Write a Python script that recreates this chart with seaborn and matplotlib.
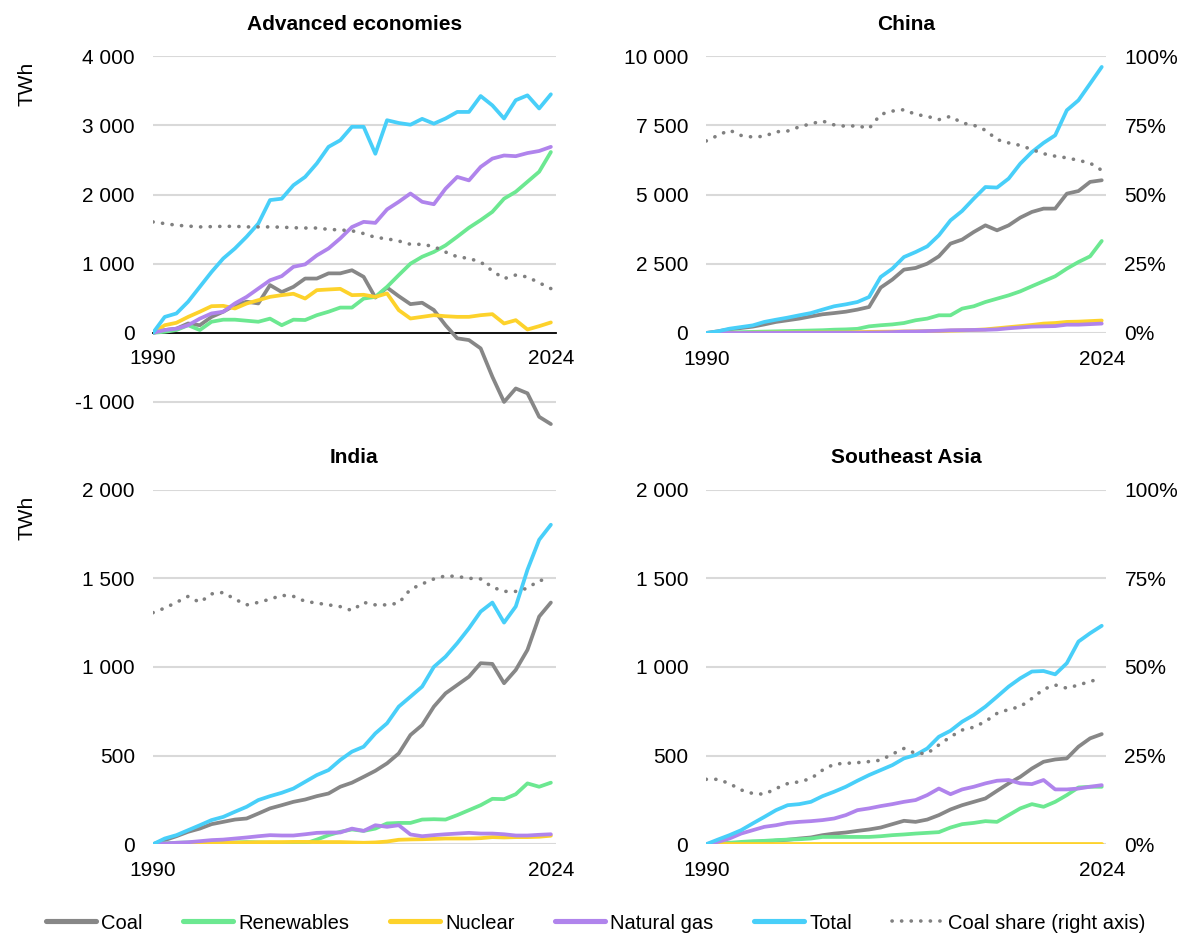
import matplotlib
matplotlib.use("Agg")
import matplotlib.pyplot as plt
from matplotlib.lines import Line2D
from matplotlib.ticker import FuncFormatter, FixedLocator
import pandas as pd
import seaborn as sns

years = list(range(1990, 2025))

# Change in electricity generation since 1990 (TWh) and coal share (%)
adv_coal = [0, 40, 60, 135, 110, 230, 305, 400, 450, 425,
            690, 590, 665, 785, 785, 860, 860, 905, 810, 510,
            655, 530, 415, 435, 330, 110, -80, -105, -225, -635,
            -1000, -805, -875, -1215, -1320]
adv_renew = [0, 15, 40, 110, 40, 160, 190, 190, 175, 160,
             205, 110, 190, 185, 255, 305, 365, 365, 495, 520,
             665, 835, 1000, 1100, 1170, 1265, 1390, 1520, 1630, 1750,
             1940, 2040, 2185, 2330, 2615]
adv_nuclear = [0, 110, 145, 230, 305, 385, 390, 352, 424, 472,
               520, 545, 565, 496, 617, 627, 636, 545, 550, 520,
               570, 328, 207, 231, 255, 240, 231, 231, 255, 270,
               135, 183, 48, 96, 150]
adv_gas = [0, 40, 60, 110, 205, 280, 305, 425, 520, 640,
           760, 820, 955, 990, 1120, 1220, 1365, 1530, 1605, 1590,
           1785, 1895, 2015, 1895, 1860, 2085, 2255, 2205, 2400, 2520,
           2565, 2555, 2600, 2630, 2690]
adv_total = [0, 230, 280, 450, 665, 880, 1075, 1220, 1390, 1580,
             1920, 1940, 2135, 2255, 2450, 2690, 2785, 2980, 2980, 2590,
             3075, 3035, 3010, 3095, 3025, 3100, 3195, 3195, 3425, 3290,
             3100, 3365, 3435, 3245, 3450]
adv_share = [40.1, 39.5, 38.9, 38.6, 38.3, 38.4, 38.5, 38.5, 38.3, 38.3,
             38.3, 38.2, 38.0, 37.9, 37.9, 37.4, 37.2, 36.9, 35.9, 34.5,
             34.0, 33.2, 32.0, 32.0, 31.2, 29.2, 27.5, 26.9, 25.6, 22.4,
             19.6, 20.9, 20.2, 18.1, 16.0]

chn_coal = [0, 60, 130, 180, 230, 310, 400, 460, 520, 600,
            675, 720, 770, 845, 940, 1640, 1930, 2290, 2350, 2505,
            2770, 3230, 3375, 3650, 3890, 3710, 3890, 4170, 4375, 4495,
            4495, 5035, 5130, 5460, 5520]
chn_renew = [0, 10, 20, 30, 40, 50, 60, 70, 80, 90,
             100, 120, 130, 150, 240, 280, 310, 360, 460, 520,
             640, 640, 880, 965, 1120, 1240, 1360, 1505, 1690, 1870,
             2050, 2325, 2565, 2770, 3325]
chn_nuclear = [0, 0, 0, 0, 10, 12, 14, 15, 16, 18,
               18, 19, 20, 30, 40, 45, 50, 55, 60, 65,
               70, 85, 95, 110, 130, 170, 210, 250, 290, 340,
               360, 400, 410, 430, 450]
chn_gas = [0, 0, 0, 0, 0, 2, 3, 4, 5, 6,
           7, 8, 9, 10, 15, 20, 30, 50, 55, 70,
           80, 100, 105, 110, 115, 130, 170, 200, 230, 240,
           250, 300, 300, 320, 340]
chn_total = [0, 60, 155, 215, 275, 400, 480, 555, 640, 720,
             845, 965, 1035, 1120, 1300, 2025, 2325, 2745, 2925, 3130,
             3530, 4070, 4410, 4855, 5275, 5255, 5580, 6120, 6540, 6870,
             7145, 8050, 8410, 9010, 9615]
chn_share = [69.4, 71.4, 73.3, 71.4, 70.8, 71.1, 72.7, 73.0, 74.5, 75.6,
             76.6, 75.2, 74.7, 74.9, 73.9, 79.0, 80.2, 80.7, 79.0, 78.3,
             77.1, 78.3, 75.9, 75.1, 73.3, 69.9, 68.7, 67.8, 66.3, 64.8,
             63.9, 63.3, 62.4, 61.4, 58.8]

ind_coal = [0, 23, 45, 70, 88, 113, 126, 139, 145, 173,
            202, 220, 239, 252, 271, 286, 324, 347, 380, 414,
            456, 512, 616, 672, 776, 851, 898, 945, 1021, 1017,
            908, 983, 1096, 1284, 1363]
ind_renew = [0, 5, 8, 10, 12, 10, 8, 10, 12, 10,
             8, 5, -3, 4, 26, 51, 70, 83, 75, 88,
             117, 120, 120, 139, 141, 139, 164, 192, 220, 256,
             254, 282, 343, 324, 347]
ind_nuclear = [0, 1, 2, 3, 3, 5, 7, 9, 10, 11,
               12, 12, 13, 13, 12, 12, 12, 10, 8, 10,
               15, 25, 27, 28, 30, 32, 32, 32, 34, 40,
               38, 40, 40, 42, 48]
ind_gas = [0, 4, 8, 11, 17, 23, 26, 32, 38, 45,
           51, 49, 49, 56, 64, 66, 66, 88, 75, 107,
           98, 107, 55, 45, 51, 56, 60, 64, 60, 60,
           56, 49, 49, 53, 56]
ind_total = [0, 32, 51, 79, 107, 136, 154, 183, 211, 249,
             271, 290, 314, 352, 390, 418, 475, 522, 550, 625,
             682, 776, 832, 889, 1000, 1058, 1134, 1218, 1312, 1363,
             1250, 1341, 1548, 1717, 1802]
ind_share = [65.3, 66.6, 68.2, 69.9, 68.2, 70.6, 71.0, 69.1, 67.5, 68.2,
             69.1, 70.2, 69.9, 68.5, 68.0, 67.5, 67.0, 65.9, 68.2, 67.5,
             67.5, 68.0, 71.9, 73.4, 74.8, 75.7, 75.5, 75.0, 74.8, 72.5,
             71.3, 71.3, 72.2, 74.4, 74.6]

sea_coal = [0, 2, 5, 8, 12, 15, 20, 25, 32, 38,
            51, 60, 66, 75, 83, 94, 113, 132, 126, 139,
            164, 196, 220, 239, 258, 301, 343, 380, 427, 465,
            478, 484, 550, 597, 621]
sea_renew = [0, 4, 8, 13, 17, 19, 23, 26, 28, 32,
             41, 41, 41, 41, 41, 45, 51, 55, 60, 64,
             68, 94, 113, 120, 130, 126, 164, 202, 226, 211,
             239, 277, 320, 324, 324]
sea_nuclear = [0] * 35
sea_gas = [0, 13, 32, 60, 79, 98, 107, 120, 126, 130,
           136, 145, 164, 192, 202, 215, 226, 239, 249, 277,
           314, 282, 309, 324, 343, 358, 362, 343, 339, 362,
           309, 309, 314, 324, 333]
sea_total = [0, 26, 51, 79, 117, 154, 192, 220, 226, 239,
             271, 296, 324, 358, 390, 418, 446, 484, 503, 540,
             606, 640, 691, 729, 776, 832, 889, 936, 974, 977,
             958, 1021, 1143, 1190, 1232]
sea_share = [18.3, 18.3, 17.1, 15.3, 14.3, 14.1, 15.7, 17.1, 17.6, 18.5,
             20.9, 22.6, 22.8, 23.0, 23.3, 23.7, 25.4, 27.0, 25.6, 25.6,
             28.0, 30.3, 32.2, 33.0, 34.6, 36.9, 38.0, 38.8, 41.1, 43.7,
             44.9, 44.0, 44.9, 45.9, 46.8]

series_names = ["Coal", "Renewables", "Nuclear", "Natural gas", "Total"]
share_name = "Coal share (right axis)"
palette = {"Coal": "#878787", "Renewables": "#6ce891", "Nuclear": "#fdd22b",
           "Natural gas": "#b084ec", "Total": "#48cff9"}
share_color = "#808080"

regions = [
    dict(title="Advanced economies", data=[adv_coal, adv_renew, adv_nuclear, adv_gas, adv_total],
         share=adv_share, rect=[0.130, 0.542, 0.342, 0.398], ylim=(-1400, 4000),
         ticks=[-1000, 0, 1000, 2000, 3000, 4000], right=False, twh=True, zero_line=True),
    dict(title="China", data=[chn_coal, chn_renew, chn_nuclear, chn_gas, chn_total],
         share=chn_share, rect=[0.600, 0.645, 0.340, 0.295], ylim=(0, 10000),
         ticks=[0, 2500, 5000, 7500, 10000], right=True, twh=False, zero_line=False),
    dict(title="India", data=[ind_coal, ind_renew, ind_nuclear, ind_gas, ind_total],
         share=ind_share, rect=[0.130, 0.100, 0.342, 0.378], ylim=(0, 2000),
         ticks=[0, 500, 1000, 1500, 2000], right=False, twh=True, zero_line=False),
    dict(title="Southeast Asia", data=[sea_coal, sea_renew, sea_nuclear, sea_gas, sea_total],
         share=sea_share, rect=[0.600, 0.100, 0.340, 0.378], ylim=(0, 2000),
         ticks=[0, 500, 1000, 1500, 2000], right=True, twh=False, zero_line=False),
]

sns.set_theme(style="white")
plt.rcParams["font.family"] = ["Liberation Sans", "DejaVu Sans"]
plt.rcParams["axes.unicode_minus"] = False
plt.rcParams["text.color"] = "black"
plt.rcParams["axes.titlecolor"] = "black"
plt.rcParams["axes.labelcolor"] = "black"
plt.rcParams["legend.labelcolor"] = "black"

FS = 15
LW = 2.7
DOT_STYLE = (0, (0.05, 2.6))

thousands = FuncFormatter(lambda v, p: f"{v:,.0f}".replace(",", " "))
percent = FuncFormatter(lambda v, p: f"{v:.0f}%")

fig = plt.figure(figsize=(11.77, 9.38), dpi=100)

for reg in regions:
    ax = fig.add_axes(reg["rect"])
    long = pd.DataFrame({
        "year": years * len(series_names),
        "value": [v for s in reg["data"] for v in s],
        "series": [n for n in series_names for _ in years],
    })
    sns.lineplot(data=long, x="year", y="value", hue="series", hue_order=series_names,
                 palette=palette, linewidth=LW, legend=False, ax=ax, zorder=3)

    ax.set_xlim(1990, 2024.4)
    ax.set_ylim(*reg["ylim"])
    ax.yaxis.set_major_locator(FixedLocator(reg["ticks"]))
    ax.yaxis.set_major_formatter(thousands)
    ax.set_xticks([1990, 2024])
    ax.set_xticklabels(["1990", "2024"])
    ax.tick_params(axis="both", length=0, labelsize=FS, colors="black")
    ax.tick_params(axis="y", pad=13)
    ax.tick_params(axis="x", pad=12)
    ax.set_xlabel("")
    ax.set_ylabel("")
    ax.grid(axis="y", color="#d9d9d9", linewidth=1.5)
    ax.grid(axis="x", visible=False)
    ax.set_axisbelow(True)
    for side in ["top", "right", "left"]:
        ax.spines[side].set_visible(False)
    if reg["zero_line"]:
        ax.spines["bottom"].set_position(("data", 0))
        ax.spines["bottom"].set_color("black")
        ax.spines["bottom"].set_linewidth(1.3)
        ax.spines["bottom"].set_zorder(2)
    else:
        ax.spines["bottom"].set_visible(False)
    ax.set_title(reg["title"], fontsize=FS, fontweight="bold", pad=19, color="black")

    # Coal share on a 0-100% secondary scale aligned with the TWh zero line
    ax2 = ax.twinx()
    lo, hi = reg["ylim"]
    top_val = reg["ticks"][-1]
    ax2.set_ylim(lo / top_val * 100, hi / top_val * 100)
    sns.lineplot(x=years, y=reg["share"], color=share_color, linewidth=2.6,
                 linestyle=DOT_STYLE, dash_capstyle="round", ax=ax2)
    ax2.set_ylabel("")
    for side in ["top", "right", "left", "bottom"]:
        ax2.spines[side].set_visible(False)
    ax2.grid(False)
    if reg["right"]:
        ax2.yaxis.set_major_locator(FixedLocator([0, 25, 50, 75, 100]))
        ax2.yaxis.set_major_formatter(percent)
        ax2.tick_params(axis="y", length=0, labelsize=FS, pad=13, colors="black")
    else:
        ax2.set_yticks([])

    if reg["twh"]:
        x0, y0, w, h = reg["rect"]
        fig.text(27 / 1177, y0 + h - 28 / 938, "TWh", rotation=90, ha="center", va="center",
                 fontsize=FS, color="black")

handles = [Line2D([], [], color=palette[n], linewidth=LW + 1) for n in series_names]
handles.append(Line2D([], [], color=share_color, linewidth=2.6, linestyle=DOT_STYLE,
                      dash_capstyle="round"))
fig.legend(handles, series_names + [share_name], loc="center",
           bbox_to_anchor=(0.5 + 7 / 1177, 1 - 923 / 938), ncol=6, frameon=False,
           fontsize=14.5, handlelength=2.5, handletextpad=0.25, columnspacing=2.0,
           labelcolor="black")

fig.savefig("out.png", dpi=100)
